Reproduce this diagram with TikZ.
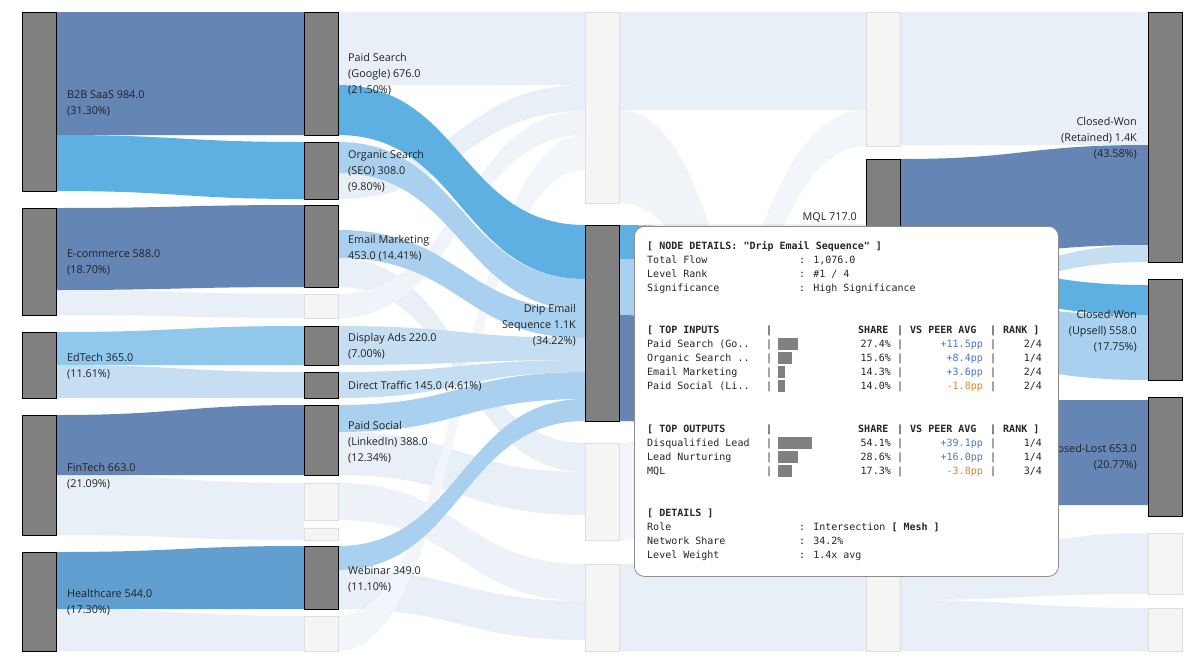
\documentclass[tikz,border=0pt]{standalone}
\usepackage{fontspec}
\setmainfont{Open Sans}
\newfontfamily\monof{DejaVu Sans Mono}
\usetikzlibrary{shadows}
\definecolor{dk}{HTML}{6585B5}
\definecolor{md}{HTML}{5FB0E2}
\definecolor{lt}{HTML}{A9D0EE}
\definecolor{pl}{HTML}{C6DEF2}
\definecolor{fd}{HTML}{E9EFF7}
\definecolor{nodegray}{HTML}{808080}
\definecolor{tblue}{HTML}{4A74C0}
\definecolor{torange}{HTML}{D08A2A}
\newcommand\flow[7]{\fill[#7] (#1,#2) .. controls ({(#1+#4)/2},#2) and ({(#1+#4)/2},#5) .. (#4,#5) -- (#4,#6) .. controls ({(#1+#4)/2},#6) and ({(#1+#4)/2},#3) .. (#1,#3) -- cycle;}
\newcommand\snode[5]{\node[#5,anchor=north west,minimum width=34,minimum height={(#4-#3)},inner sep=0] (#1) at (#2,#3) {};}
\newcommand\tl[3]{\node[tt,anchor=base west] at (#1,#2) {#3};}
\newcommand\tr[3]{\node[tt,anchor=base east] at (#1,#2) {#3};}
\newcommand\tbar[2]{\fill[nodegray] (778,#1-9) rectangle (778+#2,#1+3);}
\begin{document}
\begin{tikzpicture}[x=1pt,y=-1pt,
  act/.style={fill=nodegray,draw=black,line width=1.3},
  fad/.style={fill=black!4,draw=black!13,line width=1},
  lab/.style={font=\fontsize{10.8}{16}\selectfont,text=black!87,inner sep=0,align=left},
  labr/.style={lab,align=right},
  tt/.style={font=\monof\fontsize{10}{14}\selectfont,text=black!85,inner sep=0}]
\useasboundingbox (0,0) rectangle (1198,667);
\fill[white] (0,0) rectangle (1198,667);
% faded flows
\flow{338}{12}{85}{585}{12}{85}{fd}
\flow{338}{173}{199}{585}{85}{111}{fd}
\flow{338}{258}{287}{585}{443}{472}{fd}
\flow{338}{294}{318}{585}{111}{135}{fd!70}
\flow{338}{432}{475}{585}{472}{515}{fd}
\flow{338}{483}{520}{585}{564}{601}{fd!80}
\flow{338}{570}{609}{585}{601}{640}{fd}
\flow{338}{616}{651}{585}{135}{170}{fd!60}
\flow{620}{12}{110}{866}{12}{110}{fd}
\flow{620}{110}{203}{866}{576}{640}{fd!70}
\flow{620}{443}{540}{866}{110}{146}{fd!60}
\flow{620}{564}{651}{866}{560}{651}{fd}
\flow{901}{12}{145}{1148}{12}{145}{fd}
\flow{901}{560}{600}{1148}{533}{594}{fd}
\flow{901}{600}{651}{1148}{608}{651}{fd}
\flow{57}{290}{315}{304}{294}{318}{fd}
\flow{57}{475}{535}{304}{483}{540}{fd}
\flow{57}{609}{651}{304}{616}{651}{fd}
% colored flows col0-col1
\flow{57}{12}{135}{304}{12}{135}{dk}
\flow{57}{135}{191}{304}{142}{199}{md}
\flow{57}{208}{290}{304}{205}{287}{dk}
\flow{57}{332}{365}{304}{326}{365}{md!70}
\flow{57}{365}{398}{304}{372}{398}{pl}
\flow{57}{415}{475}{304}{405}{475}{dk}
\flow{57}{552}{609}{304}{546}{609}{md!60!dk}
% col1 - drip
\flow{338}{546}{570}{585}{399}{421}{lt}
\flow{338}{405}{432}{585}{372}{399}{lt}
\flow{338}{372}{398}{585}{360}{372}{pl}
\flow{338}{326}{365}{585}{338}{360}{pl}
\flow{338}{230}{258}{585}{310}{338}{lt}
\flow{338}{142}{173}{585}{279}{310}{lt}
\flow{338}{85}{135}{585}{225}{279}{md}
% drip - col3
\flow{620}{225}{259}{866}{255}{289}{md}
\flow{620}{259}{315}{866}{300}{356}{lt}
\flow{620}{315}{421}{866}{400}{505}{dk}
% col3 - col4
\flow{901}{159}{259}{1148}{145}{245}{dk}
\flow{901}{289}{300}{1148}{245}{262}{pl}
\flow{901}{259}{289}{1148}{285}{315}{md}
\flow{901}{300}{356}{1148}{315}{380}{lt}
\flow{901}{400}{505}{1148}{400}{505}{dk}
% nodes
\snode{b2b}{22}{12}{191}{act}
\snode{ecom}{22}{208}{315}{act}
\snode{edtech}{22}{332}{398}{act}
\snode{fintech}{22}{415}{535}{act}
\snode{health}{22}{552}{651}{act}
\snode{ps}{304}{12}{135}{act}
\snode{org}{304}{142}{199}{act}
\snode{email}{304}{205}{287}{act}
\snode{f1a}{304}{294}{318}{fad}
\snode{disp}{304}{326}{365}{act}
\snode{direct}{304}{372}{398}{act}
\snode{social}{304}{405}{475}{act}
\snode{f1b}{304}{483}{520}{fad}
\snode{f1c}{304}{528}{540}{fad}
\snode{web}{304}{546}{609}{act}
\snode{f1d}{304}{616}{651}{fad}
\snode{f2a}{585}{12}{203}{fad}
\snode{drip}{585}{225}{421}{act}
\snode{f2b}{585}{443}{540}{fad}
\snode{f2c}{585}{564}{651}{fad}
\snode{f3a}{866}{12}{146}{fad}
\snode{mql}{866}{159}{289}{act}
\snode{f3b}{866}{300}{651}{fad}
\snode{won}{1148}{12}{262}{act}
\snode{ups}{1148}{279}{380}{act}
\snode{lost}{1148}{397}{516}{act}
\snode{f4a}{1148}{533}{594}{fad}
\snode{f4b}{1148}{608}{651}{fad}
% labels
\node[lab,anchor=west] (lb2b) at (67,103) {B2B SaaS 984.0\\(31.30\%)};
\node[lab,anchor=west] (lecom) at (67,262) {E-commerce 588.0\\(18.70\%)};
\node[lab,anchor=west] (led) at (67,366) {EdTech 365.0\\(11.61\%)};
\node[lab,anchor=west] (lfin) at (67,476) {FinTech 663.0\\(21.09\%)};
\node[lab,anchor=west] (lhe) at (67,602) {Healthcare 544.0\\(17.30\%)};
\node[lab,anchor=west] (lps) at (348,74) {Paid Search\\(Google) 676.0\\(21.50\%)};
\node[lab,anchor=west] (lorg) at (348,171) {Organic Search\\(SEO) 308.0\\(9.80\%)};
\node[lab,anchor=west] (lem) at (348,248) {Email Marketing\\453.0 (14.41\%)};
\node[lab,anchor=west] (ldi) at (348,346) {Display Ads 220.0\\(7.00\%)};
\node[lab,anchor=west] (ldt) at (348,386) {Direct Traffic 145.0 (4.61\%)};
\node[lab,anchor=west] (lso) at (348,442) {Paid Social\\(LinkedIn) 388.0\\(12.34\%)};
\node[lab,anchor=west] (lwe) at (348,579) {Webinar 349.0\\(11.10\%)};
\node[labr,anchor=east] (ldr) at (576,325) {Drip Email\\Sequence 1.1K\\(34.22\%)};
\node[labr,anchor=east] (lmq) at (857,217) {MQL 717.0};
\node[labr,anchor=east] (lwon) at (1137,138) {Closed-Won\\(Retained) 1.4K\\(43.58\%)};
\node[labr,anchor=east] (lup) at (1137,331) {Closed-Won\\(Upsell) 558.0\\(17.75\%)};
\node[labr,anchor=east] (llo) at (1137,457) {Closed-Lost 653.0\\(20.77\%)};
% tooltip
\node[draw=black!45,fill=white,rounded corners=10,line width=0.8,minimum width=424,minimum height=350,anchor=north west,inner sep=0,drop shadow={shadow xshift=1,shadow yshift=-2,opacity=0.15}] (tip) at (634,226) {};
\tl{647}{249}{\bfseries [ NODE DETAILS: "Drip Email Sequence" ]}
\tl{647}{263}{Total Flow}\tl{799}{263}{: 1,076.0}
\tl{647}{277}{Level Rank}\tl{799}{277}{: \#1 / 4}
\tl{647}{291}{Significance}\tl{799}{291}{: High Significance}
\tl{647}{333}{\bfseries [ TOP INPUTS}\tl{766}{333}{\bfseries |}
\tl{858}{333}{\bfseries SHARE}\tl{897}{333}{\bfseries |}\tl{910}{333}{\bfseries VS PEER AVG}\tl{990}{333}{\bfseries |}\tl{1003}{333}{\bfseries RANK ]}
\foreach \y/\n/\w/\s/\p/\c/\r in {347/Paid Search (Go../20/27.4\%/+11.5pp/tblue/2,361/Organic Search ../14/15.6\%/+8.4pp/tblue/1,375/Email Marketing/7/14.3\%/+3.6pp/tblue/2,389/Paid Social (Li../7/14.0\%/-1.8pp/torange/2,446/Disqualified Lead/34/54.1\%/+39.1pp/tblue/1,460/Lead Nurturing/20/28.6\%/+16.0pp/tblue/1,474/MQL/14/17.3\%/-3.8pp/torange/3}{
  \tl{647}{\y}{\n}\tl{766}{\y}{|}\tbar{\y}{\w}
  \tr{891}{\y}{\s}\tl{897}{\y}{|}\tr{983}{\y}{\textcolor{\c}{\p}}\tl{990}{\y}{|}\tr{1042}{\y}{\r/4}
}
\tl{647}{432}{\bfseries [ TOP OUTPUTS}\tl{766}{432}{\bfseries |}
\tl{858}{432}{\bfseries SHARE}\tl{897}{432}{\bfseries |}\tl{910}{432}{\bfseries VS PEER AVG}\tl{990}{432}{\bfseries |}\tl{1003}{432}{\bfseries RANK ]}
\tl{647}{516}{\bfseries [ DETAILS ]}
\tl{647}{530}{Role}\tl{799}{530}{: Intersection \textbf{[ Mesh ]}}
\tl{647}{544}{Network Share}\tl{799}{544}{: 34.2\%}
\tl{647}{558}{Level Weight}\tl{799}{558}{: 1.4x avg}
\end{tikzpicture}
\end{document}
